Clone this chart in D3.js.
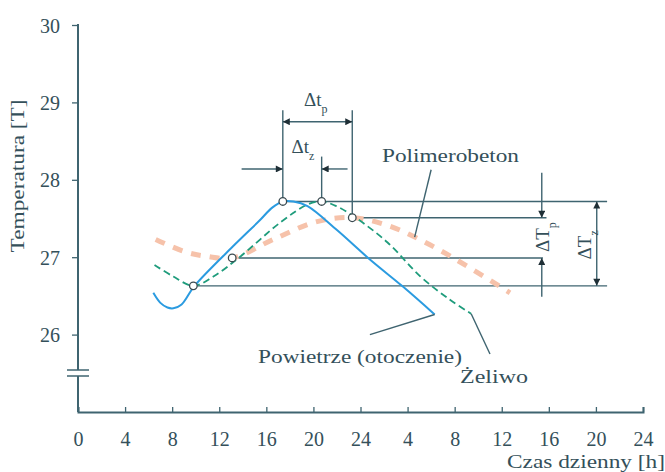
<!DOCTYPE html>
<html>
<head>
<meta charset="utf-8">
<script src="https://cdn.jsdelivr.net/npm/d3@7"></script>
<style>
  body { margin: 0; background: #fff; }
  svg text { font-family: "Liberation Serif", "DejaVu Serif", serif; fill: #34505a; }
</style>
</head>
<body>
<div id="chart"></div>
<script>
// hours on a two-day axis, temperatures
var xTicks = [0, 4, 8, 12, 16, 20, 24, 28, 32, 36, 40, 44, 48];
var xTickLabels = ["0", "4", "8", "12", "16", "20", "24", "4", "8", "12", "16", "20", "24"];
var yTicks = [26, 27, 28, 29, 30];

var air = [[6.4, 26.54], [7.0, 26.41], [7.6, 26.35], [8.1, 26.34], [8.8, 26.39], [9.9, 26.63],
  [13.3, 27.16], [15.4, 27.47], [16.5, 27.64], [17.4, 27.72], [18.3, 27.72], [19.5, 27.66],
  [22.0, 27.35], [24.8, 26.97], [27.6, 26.62], [30.3, 26.26]];
var castIron = [[6.5, 26.90], [8.1, 26.75], [9.8, 26.63], [11.5, 26.75], [13.8, 27.01],
  [17.2, 27.45], [19.5, 27.68], [20.7, 27.72], [21.8, 27.67], [23.4, 27.53], [26.3, 27.19],
  [29.1, 26.75], [31.6, 26.45], [33.4, 26.27]];
var polymer = [[6.6, 27.23], [9.1, 27.07], [11.0, 27.01], [13.1, 26.99], [16.6, 27.23],
  [20.3, 27.46], [23.3, 27.51], [26.5, 27.40], [29.9, 27.16], [33.1, 26.88], [36.7, 26.54]];

// reference levels and moments of the annotation
var peakAir = [17.4, 27.72], peakIron = [20.7, 27.72], minIron = [9.8, 26.63];
var peakPoly = [23.3, 27.51], minPoly = [13.1, 26.99];

var svgWidth = 665, svgHeight = 472;
var svg = d3.select("#chart").append("svg")
  .attr("width", svgWidth).attr("height", svgHeight)
  .attr("font-family", "Liberation Serif, DejaVu Serif, serif");

var x = d3.scaleLinear().domain([0, 48]).range([78, 643]);
var y = d3.scaleLinear().domain([25, 30]).range([412, 25]);

var ink = "#3f6470";
var serif = "'Liberation Serif', 'DejaVu Serif', serif";

var defs = svg.append("defs");
defs.append("marker").attr("id", "arr")
  .attr("viewBox", "0 0 10 10").attr("refX", 10).attr("refY", 5)
  .attr("markerWidth", 9).attr("markerHeight", 7).attr("orient", "auto-start-reverse")
  .attr("markerUnits", "userSpaceOnUse")
  .append("path").attr("d", "M0,0L10,5L0,10Z").attr("fill", "#1f2f36");

// axes
var xAxis = d3.axisBottom(x).tickValues(xTicks).tickSize(-5).tickFormat((d, i) => xTickLabels[i]);
var gx = svg.append("g").attr("transform", `translate(0, ${y(25)})`).call(xAxis);
var yAxis = d3.axisLeft(y).tickValues(yTicks).tickSize(6).tickFormat(d3.format("d"));
var gy = svg.append("g").attr("transform", `translate(${x(0)}, 0)`).call(yAxis);
[gx, gy].forEach(function(g) {
  g.attr("font-family", null);
  g.select(".domain").attr("stroke", ink).attr("stroke-width", 2);
  g.selectAll(".tick line").attr("stroke", ink).attr("stroke-width", 1.3);
  g.selectAll(".tick text").style("font-size", "20px").attr("fill", "#34505a")
    .style("font-family", serif);
});
gx.selectAll(".tick text").attr("y", 0).attr("dy", "34px");
gy.selectAll(".tick text").attr("x", -18).attr("dy", "0.35em");
gy.select(".domain").attr("d", `M0,${y(30) - 1}V${y(25)}`);

// axis break
svg.append("rect").attr("x", x(0) - 3).attr("y", 370).attr("width", 6).attr("height", 6).attr("fill", "#fff");
[370, 376].forEach(function(yy) {
  svg.append("line").attr("x1", x(0) - 11).attr("x2", x(0) + 11).attr("y1", yy).attr("y2", yy)
    .attr("stroke", ink).attr("stroke-width", 1.5);
});

// axis titles
svg.append("text").attr("transform", `translate(24, ${y(28.05)}) rotate(-90)`)
  .attr("text-anchor", "middle").style("font-size", "19px")
  .attr("textLength", 153).attr("lengthAdjust", "spacingAndGlyphs").text("Temperatura [T]");
svg.append("text").attr("x", 665).attr("y", 468).attr("text-anchor", "end")
  .style("font-size", "19px").attr("textLength", 158).attr("lengthAdjust", "spacingAndGlyphs")
  .text("Czas dzienny [h]");

// reference lines
var lineG = svg.append("g").attr("stroke", ink).attr("stroke-width", 1.4);
function seg(h1, t1, h2, t2, arrowEnd, arrowStart) {
  var l = lineG.append("line")
    .attr("x1", x(h1)).attr("y1", y(t1)).attr("x2", x(h2)).attr("y2", y(t2));
  if (arrowEnd) l.attr("marker-end", "url(#arr)");
  if (arrowStart) l.attr("marker-start", "url(#arr)");
  return l;
}
seg(peakAir[0], peakAir[1], 44.95, peakAir[1]);
seg(peakPoly[0], peakPoly[1], 39.8, peakPoly[1]);
seg(minPoly[0], minPoly[1], 39.5, minPoly[1]);
seg(minIron[0], minIron[1], 44.95, minIron[1]);
seg(peakAir[0], peakAir[1], peakAir[0], 28.9);
seg(peakIron[0], peakIron[1], peakIron[0], 28.3);
seg(peakPoly[0], peakPoly[1], peakPoly[0], 28.9);
// Δt_p
seg(peakAir[0], 28.75, peakPoly[0], 28.75, true, true);
// Δt_z
seg(13.9, 28.14, peakAir[0], 28.14, true);
seg(22.9, 28.14, peakIron[0], 28.14, true);
// ΔT_p
seg(39.4, 28.09, 39.4, peakPoly[1], true);
seg(39.4, 26.49, 39.4, minPoly[1], true);
// ΔT_z
seg(44.07, peakIron[1], 44.07, minIron[1], true, true);

// curves
var line = d3.line().x(d => x(d[0])).y(d => y(d[1])).curve(d3.curveCatmullRom.alpha(0.5));
svg.append("path").datum(polymer).attr("d", line).attr("fill", "none")
  .attr("stroke", "#f6c2aa").attr("stroke-width", 5).attr("stroke-dasharray", "10,9");
svg.append("path").datum(castIron).attr("d", line).attr("fill", "none")
  .attr("stroke", "#1f9c7c").attr("stroke-width", 1.8).attr("stroke-dasharray", "7,4");
svg.append("path").datum(air).attr("d", line).attr("fill", "none")
  .attr("stroke", "#2b9be0").attr("stroke-width", 2);

// marked points
svg.selectAll("circle.pt").data([peakAir, peakIron, peakPoly, minPoly, minIron]).enter()
  .append("circle").attr("class", "pt")
  .attr("cx", d => x(d[0])).attr("cy", d => y(d[1])).attr("r", 3.8)
  .attr("fill", "#fff").attr("stroke", "#3a4a50").attr("stroke-width", 1.3);

// leader lines
var lead = svg.append("g").attr("stroke", ink).attr("stroke-width", 1.4);
lead.append("line").attr("x1", x(30.0)).attr("y1", y(28.13)).attr("x2", x(28.6)).attr("y2", y(27.26));
lead.append("line").attr("x1", x(30.3)).attr("y1", y(26.26)).attr("x2", x(24.8)).attr("y2", y(26.0));
lead.append("line").attr("x1", x(33.4)).attr("y1", y(26.27)).attr("x2", x(35.0)).attr("y2", y(25.75));

// labels
function label(tx, ty, str, len) {
  return svg.append("text").attr("x", tx).attr("y", ty)
    .style("font-size", "19px").attr("textLength", len).attr("lengthAdjust", "spacingAndGlyphs")
    .text(str);
}
label(382, 162, "Polimerobeton", 137);
label(258, 363, "Powietrze (otoczenie)", 204);
label(460, 383, "Żeliwo", 68);

function delta(tx, ty, main, sub, rot) {
  var t = svg.append("text").attr("text-anchor", "middle").style("font-size", "19px")
    .attr("transform", `translate(${tx}, ${ty})` + (rot ? " rotate(-90)" : ""));
  t.append("tspan").text(main);
  t.append("tspan").attr("baseline-shift", "sub").style("font-size", "12px").text(sub);
}
delta(x(20.2), y(28.95), "Δt", "p");
delta(x(19.1), y(28.34), "Δt", "z");
delta(x(39.4) + 7, y(27.26), "ΔT", "p", true);
delta(x(44.07) - 6, y(27.16), "ΔT", "z", true);
</script>
</body>
</html>
